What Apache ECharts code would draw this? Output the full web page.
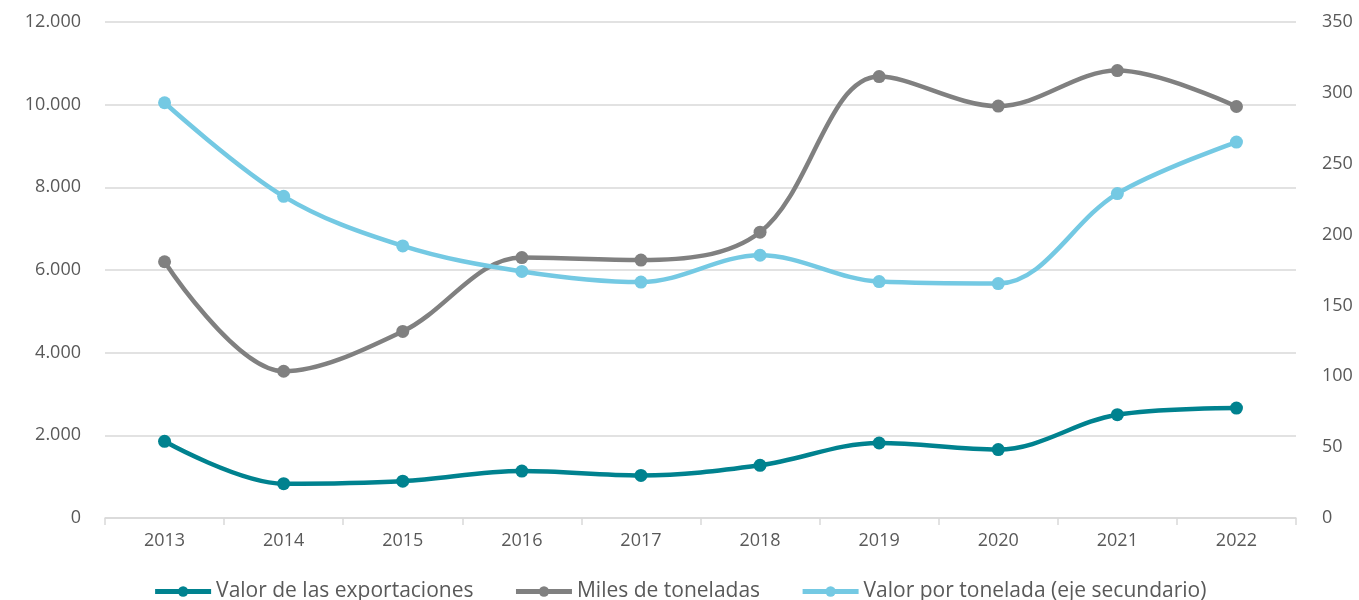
<!DOCTYPE html>
<html>
<head>
<meta charset="utf-8">
<title>Exportaciones</title>
<script src="https://cdn.jsdelivr.net/npm/echarts@6/dist/echarts.min.js"></script>
<style>
  html, body { margin: 0; padding: 0; background: #fff; }
  #chart { width: 1359px; height: 600px; }
</style>
</head>
<body>
<div id="chart"></div>
<script>
// Years on the category axis
const years = ['2013', '2014', '2015', '2016', '2017', '2018', '2019', '2020', '2021', '2022'];

// Export value (left axis)
const valorExportaciones = [1855, 830, 890, 1135, 1030, 1275, 1815, 1655, 2500, 2660];

// Thousand tonnes (left axis)
const milesToneladas = [6200, 3550, 4515, 6300, 6240, 6915, 10680, 9965, 10825, 9955];

// Value per tonne (right axis)
const valorPorTonelada = [293, 227, 192, 174, 166.5, 185.4, 166.8, 165.4, 228.9, 265.3];

const seriesNames = ['Valor de las exportaciones', 'Miles de toneladas', 'Valor por tonelada (eje secundario)'];
const colors = ['#00828F', '#808080', '#74C9E3'];

const fontFamily = 'Open Sans, Noto Sans, sans-serif';
const textColor = '#595959';

function fmtThousands(v) {
  return String(Math.round(v)).replace(/\B(?=(\d{3})+(?!\d))/g, '.');
}

function lineSeries(name, data, color, yAxisIndex) {
  return {
    name: name,
    type: 'line',
    yAxisIndex: yAxisIndex,
    data: data,
    smooth: 0.35,
    symbol: 'circle',
    symbolSize: 13,
    showSymbol: true,
    lineStyle: { width: 4.5, color: color },
    itemStyle: { color: color },
    emphasis: { disabled: true }
  };
}

const chart = echarts.init(document.getElementById('chart'), null, { renderer: 'canvas' });

chart.setOption({
  animation: false,
  backgroundColor: '#ffffff',
  textStyle: { fontFamily: fontFamily },
  grid: { left: 105, right: 63, top: 22, bottom: 82, containLabel: false },
  legend: {
    data: seriesNames,
    top: 576,
    left: 'center',
    itemWidth: 56,
    itemHeight: 13,
    itemGap: 40,
    lineStyle: { width: 5 },
    textStyle: { fontSize: 21, color: textColor, fontFamily: fontFamily, padding: [0, 0, 0, 0] }
  },
  xAxis: {
    type: 'category',
    data: years,
    boundaryGap: true,
    axisLine: { lineStyle: { color: '#D9D9D9', width: 1.5 } },
    axisTick: { show: true, length: 7, lineStyle: { color: '#D9D9D9', width: 1.5 } },
    axisLabel: { fontSize: 18, color: textColor, margin: 14 }
  },
  yAxis: [
    {
      type: 'value',
      min: 0,
      max: 12000,
      interval: 2000,
      axisLine: { show: false },
      axisTick: { show: false },
      splitLine: { lineStyle: { color: '#D9D9D9', width: 1.5 } },
      axisLabel: { fontSize: 18, color: textColor, margin: 24, formatter: fmtThousands }
    },
    {
      type: 'value',
      min: 0,
      max: 350,
      interval: 50,
      axisLine: { show: false },
      axisTick: { show: false },
      splitLine: { show: false },
      axisLabel: { fontSize: 18, color: textColor, margin: 26 }
    }
  ],
  series: [
    lineSeries(seriesNames[0], valorExportaciones, colors[0], 0),
    lineSeries(seriesNames[1], milesToneladas, colors[1], 0),
    lineSeries(seriesNames[2], valorPorTonelada, colors[2], 1)
  ]
});
</script>
</body>
</html>
